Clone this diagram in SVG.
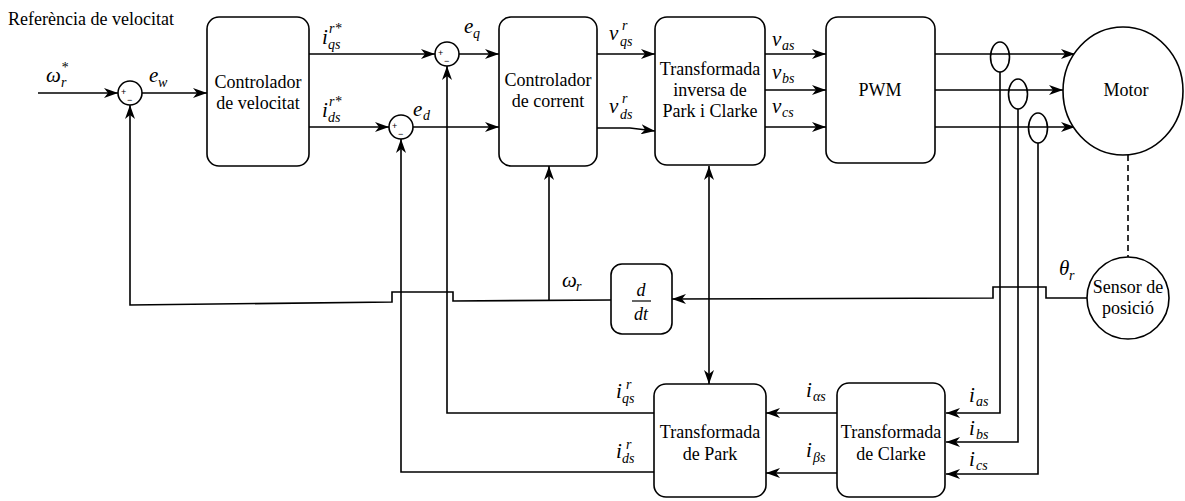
<svg xmlns="http://www.w3.org/2000/svg" width="1185" height="501" viewBox="0 0 1185 501">
<style>
.bx{fill:#fff;stroke:#000;stroke-width:1.6}
.ln{fill:none;stroke:#000;stroke-width:1.6}
.t{font-family:"Liberation Serif","DejaVu Serif",serif;font-size:18px;fill:#000;text-anchor:middle}
.m{font-family:"Liberation Serif","DejaVu Serif",serif;font-style:italic;font-size:21px;fill:#000}
.s{font-family:"Liberation Serif","DejaVu Serif",serif;font-style:italic;font-size:14px;fill:#000}
.pm{font-family:"Liberation Sans",sans-serif;font-size:9px;fill:#000}
</style>
<defs>
<marker id="ar" viewBox="0 0 14 10" refX="14" refY="5" markerWidth="14" markerHeight="10" markerUnits="userSpaceOnUse" orient="auto-start-reverse">
<path d="M0,0 L14,5 L0,10 L4,5 Z" fill="#000"/>
</marker>
</defs>
<rect width="1185" height="501" fill="#fff"/>
<text x="8" y="25" style="font-family:'Liberation Serif','DejaVu Serif',serif;font-size:18px;fill:#000">Referència de velocitat</text>

<g id="connectors">
<path class="ln" d="M38,93 L118,93" marker-end="url(#ar)"/>
<path class="ln" d="M142,93 L207,93" marker-end="url(#ar)"/>
<path class="ln" d="M308,54 L435,54" marker-end="url(#ar)"/>
<path class="ln" d="M308,127 L389,127" marker-end="url(#ar)"/>
<path class="ln" d="M459,54 L499,54" marker-end="url(#ar)"/>
<path class="ln" d="M413,127 L499,127" marker-end="url(#ar)"/>
<path class="ln" d="M597,54 L655,54" marker-end="url(#ar)"/>
<path class="ln" d="M597,128 L630,128 L655,131" marker-end="url(#ar)"/>
<path class="ln" d="M765,54 L826,54" marker-end="url(#ar)"/>
<path class="ln" d="M765,90 L826,90" marker-end="url(#ar)"/>
<path class="ln" d="M765,127 L826,127" marker-end="url(#ar)"/>
<path class="ln" d="M935,54 L1075,54" marker-end="url(#ar)"/>
<path class="ln" d="M935,90 L1063,90" marker-end="url(#ar)"/>
<path class="ln" d="M935,127 L1075,127" marker-end="url(#ar)"/>
<path class="ln" d="M1000,72 L1000,413 L946,413" marker-end="url(#ar)"/>
<path class="ln" d="M1018,109 L1018,442 L946,442" marker-end="url(#ar)"/>
<path class="ln" d="M1038,143 L1038,474 L946,474" marker-end="url(#ar)"/>
<path class="ln" d="M837,413 L766,413" marker-end="url(#ar)"/>
<path class="ln" d="M837,473 L766,473" marker-end="url(#ar)"/>
<path class="ln" d="M654,413 L447,413 L447,66" marker-end="url(#ar)"/>
<path class="ln" d="M654,472 L401,472 L401,139" marker-end="url(#ar)"/>
<path class="ln" d="M709,166 L709,384" marker-start="url(#ar)" marker-end="url(#ar)"/>
<path class="ln" d="M1087,298 L1046,298 L1046,287 L993,287 L993,298 L672,299" marker-end="url(#ar)"/>
<path class="ln" d="M611,300 L453,301 L453,292 L392,292 L392,302 L130,305 L130,105" marker-end="url(#ar)"/>
<path class="ln" d="M549,300 L549,166" marker-end="url(#ar)"/>
<path class="ln" d="M1128,155 L1128,257" stroke-dasharray="6,4"/>
</g>

<g id="sum1"><circle class="bx" cx="130" cy="93" r="12"/><text class="pm" x="121" y="95">+</text><text class="pm" x="127" y="103">−</text></g>
<g id="sumq"><circle class="bx" cx="447" cy="54" r="12"/><text class="pm" x="438" y="56">+</text><text class="pm" x="444" y="64">−</text></g>
<g id="sumd"><circle class="bx" cx="401" cy="127" r="12"/><text class="pm" x="392" y="129">+</text><text class="pm" x="398" y="137">−</text></g>

<g id="ctrl-vel"><rect class="bx" x="207" y="17" width="102" height="149" rx="12"/><text class="t" x="258" y="88">Controlador</text><text class="t" x="258" y="109">de velocitat</text></g>
<g id="ctrl-cor"><rect class="bx" x="499" y="17" width="98" height="149" rx="12"/><text class="t" x="548" y="86">Controlador</text><text class="t" x="548" y="107">de corrent</text></g>
<g id="inv"><rect class="bx" x="655" y="17" width="110" height="148" rx="12"/><text class="t" x="710" y="75">Transformada</text><text class="t" x="710" y="96">inversa de</text><text class="t" x="710" y="117">Park i Clarke</text></g>
<g id="pwm"><rect class="bx" x="826" y="17" width="109" height="146" rx="12"/><text class="t" x="880" y="96">PWM</text></g>
<g id="motor"><ellipse class="bx" cx="1123" cy="91" rx="60" ry="64"/><text class="t" x="1126" y="96">Motor</text></g>
<g id="sensor"><circle class="bx" cx="1128" cy="298" r="41"/><text class="t" x="1128" y="293">Sensor de</text><text class="t" x="1128" y="314">posició</text></g>
<g id="ddt"><rect class="bx" x="611" y="264" width="61" height="70" rx="11"/><text class="m" x="641" y="296" text-anchor="middle" style="font-size:18px">d</text><path class="ln" d="M632,301 L651,301" style="stroke-width:1.2"/><text class="m" x="641" y="320" text-anchor="middle" style="font-size:18px">dt</text></g>
<g id="park"><rect class="bx" x="654" y="384" width="112" height="113" rx="12"/><text class="t" x="710" y="438">Transformada</text><text class="t" x="710" y="460">de Park</text></g>
<g id="clarke"><rect class="bx" x="837" y="383" width="108" height="114" rx="12"/><text class="t" x="891" y="438">Transformada</text><text class="t" x="891" y="460">de Clarke</text></g>
<g id="ccs1"><ellipse class="bx" cx="1000" cy="57" rx="9.5" ry="15" style="fill:none"/></g>
<g id="ccs2"><ellipse class="bx" cx="1018" cy="94" rx="9.5" ry="15" style="fill:none"/></g>
<g id="ccs3"><ellipse class="bx" cx="1038" cy="128" rx="9.5" ry="15" style="fill:none"/></g>

<g id="labels">
<text class="m" x="46" y="82">ω</text><text class="s" x="61" y="72">*</text><text class="s" x="61" y="87">r</text>
<text class="m" x="149" y="82">e</text><text class="s" x="158" y="87">w</text>
<text class="m" x="322" y="44">i</text><text class="s" x="329" y="33">r*</text><text class="s" x="328" y="49">qs</text>
<text class="m" x="322" y="117">i</text><text class="s" x="329" y="106">r*</text><text class="s" x="328" y="122">ds</text>
<text class="m" x="464" y="33">e</text><text class="s" x="473" y="38">q</text>
<text class="m" x="413" y="116">e</text><text class="s" x="423" y="120">d</text>
<text class="m" x="609" y="40">v</text><text class="s" x="622" y="30">r</text><text class="s" x="620" y="46">qs</text>
<text class="m" x="609" y="113">v</text><text class="s" x="622" y="103">r</text><text class="s" x="620" y="119">ds</text>
<text class="m" x="772" y="46">v</text><text class="s" x="782" y="50">as</text>
<text class="m" x="772" y="79">v</text><text class="s" x="782" y="83">bs</text>
<text class="m" x="772" y="113">v</text><text class="s" x="782" y="117">cs</text>
<text class="m" x="562" y="287">ω</text><text class="s" x="576" y="291">r</text>
<text class="m" x="1059" y="275">θ</text><text class="s" x="1069" y="280">r</text>
<text class="m" x="616" y="398">i</text><text class="s" x="626" y="389">r</text><text class="s" x="622" y="403">qs</text>
<text class="m" x="616" y="458">i</text><text class="s" x="626" y="449">r</text><text class="s" x="622" y="463">ds</text>
<text class="m" x="806" y="397">i</text><text class="s" x="813" y="401">αs</text>
<text class="m" x="806" y="457">i</text><text class="s" x="813" y="462">βs</text>
<text class="m" x="969" y="402">i</text><text class="s" x="976" y="406">as</text>
<text class="m" x="969" y="435">i</text><text class="s" x="976" y="439">bs</text>
<text class="m" x="969" y="466">i</text><text class="s" x="976" y="470">cs</text>
</g>
</svg>
